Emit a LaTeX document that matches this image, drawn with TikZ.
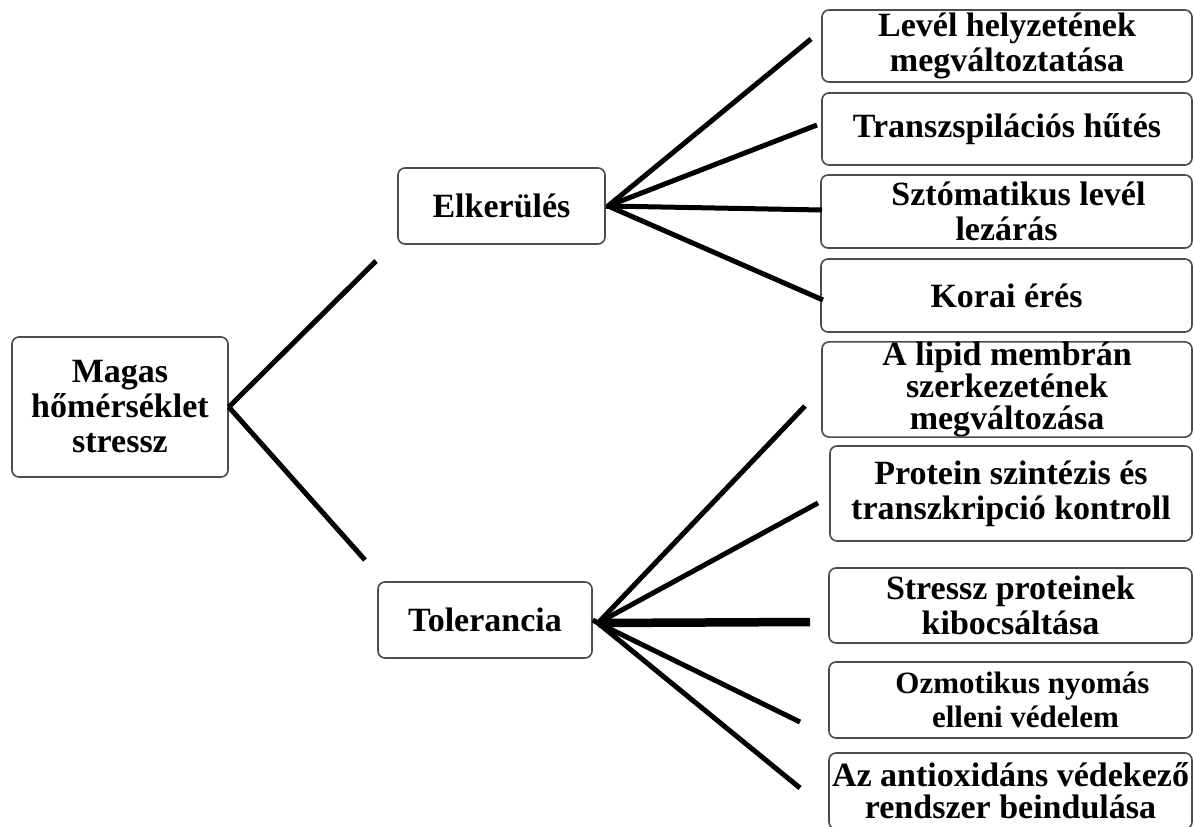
\documentclass[tikz,border=0pt]{standalone}
\usepackage{fontspec}
\setmainfont{Liberation Serif}
\begin{document}
\begin{tikzpicture}[x=1pt,y=-1pt,
  box/.style={draw=black!70, line width=1.6pt, rounded corners=7pt, fill=white,
    align=center, inner sep=0pt, font=\bfseries\fontsize{34}{35}\selectfont},
  tight/.style={font=\bfseries\fontsize{34}{32}\selectfont},
  small/.style={font=\bfseries\fontsize{31}{34}\selectfont},
  conn/.style={line width=5pt, black},
  thick conn/.style={line width=8.5pt, black}]
\useasboundingbox (0,0) rectangle (1194,827);
\clip (0,0) rectangle (1194,827);

% main boxes
\node[box, minimum width=216pt, minimum height=140pt] (magas) at (120,407) {Magas\\hőmérséklet\\stressz};
\node[box, minimum width=207pt, minimum height=76pt] (elk) at (501.5,206) {Elkerülés};
\node[box, minimum width=214pt, minimum height=76pt] (tol) at (485,620) {Tolerancia};

% avoidance boxes
\node[box, minimum width=370pt, minimum height=72pt] (e1) at (1007,46) {Levél helyzetének\\megváltoztatása};
\node[box, minimum width=370pt, minimum height=72pt] (e2) at (1007,129) {Transzspilációs hűtés};
\node[box, minimum width=371pt, minimum height=73pt] (e3) at (1006.5,211.5) {\hspace*{24pt}Sztómatikus levél\\lezárás};
\node[box, minimum width=371pt, minimum height=73pt] (e4) at (1006.5,295.5) {Korai érés};

% tolerance boxes
\node[box, tight, minimum width=370pt, minimum height=93pt] (t1) at (1007,389.5) {A lipid membrán\\szerkezetének\\megváltozása};
\node[box, minimum width=362pt, minimum height=95pt] (t2) at (1011,493.5) {Protein szintézis és\\transzkripció kontroll};
\node[box, minimum width=363pt, minimum height=75pt] (t3) at (1010.5,605.5) {Stressz proteinek\\kibocsáltása};
\node[box, small, minimum width=363pt, minimum height=76pt] (t4) at (1010.5,700) {\hspace*{24pt}Ozmotikus nyomás\\\hspace*{30pt}elleni védelem};
\node[box, tight, minimum width=363pt, minimum height=76pt] (t5) at (1010.5,791) {Az antioxidáns védekező\\rendszer beindulása};

% free ends of connectors
\coordinate (mUp) at (376,261);
\coordinate (mDn) at (365,560);
\coordinate (eh) at (608,206);
\coordinate (e1end) at (811,39);
\coordinate (e2end) at (817,125);
\coordinate (e3end) at (822,210);
\coordinate (e4end) at (823,300);
\coordinate (th) at (598,623);
\coordinate (t1end) at (805,406);
\coordinate (t2end) at (818,503);
\coordinate (t3end) at (810,622);
\coordinate (t4end) at (800,722);
\coordinate (t5end) at (800,788);

% connectors
\draw[conn] (magas.east) -- (mUp);
\draw[conn] (magas.east) -- (mDn);

\draw[conn] (elk.east) -- (eh);
\draw[conn] (eh) -- (e1end);
\draw[conn] (eh) -- (e2end);
\draw[conn] (eh) -- (e3end);
\draw[conn] (eh) -- (e4end);

\draw[conn] (tol.east) -- (th);
\draw[conn] (th) -- (t1end);
\draw[conn] (th) -- (t2end);
\draw[thick conn] (th) -- (t3end);
\draw[conn] (th) -- (t4end);
\draw[conn] (th) -- (t5end);
\end{tikzpicture}
\end{document}
